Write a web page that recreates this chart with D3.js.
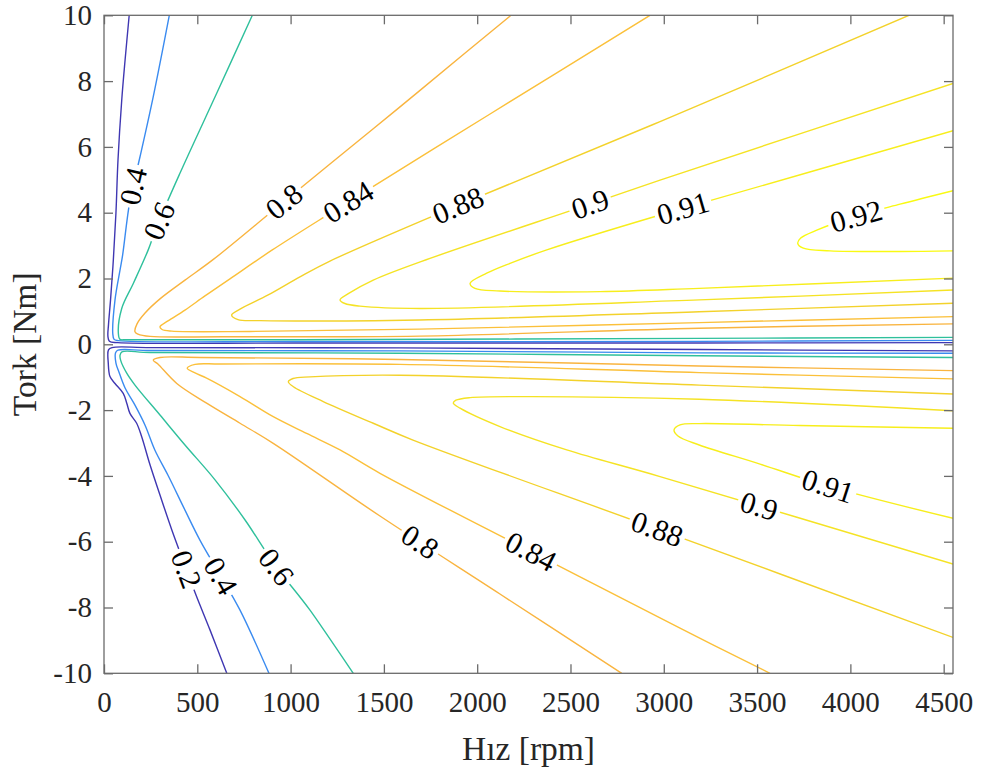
<!DOCTYPE html>
<html>
<head>
<meta charset="utf-8">
<script src="https://cdn.jsdelivr.net/npm/d3@7"></script>
<style>
  html, body { margin: 0; padding: 0; background: #ffffff; }
  svg { display: block; }
  text { font-family: "Liberation Serif", "Times New Roman", Times, serif; }
</style>
</head>
<body>
<svg id="chart" width="982" height="776"></svg>
<script>
// ---- Efficiency levels (motor efficiency map) ----
const levels = [0.2, 0.4, 0.6, 0.8, 0.84, 0.88, 0.9, 0.91, 0.92];
const levelColors = ["#3f37b2", "#3a8bf0", "#2fc09c", "#f9b43f", "#fbc03a", "#f3d22b", "#f5e324", "#f7ee1c", "#f9fa12"];

// ---- Axis ticks ----
const speedTicks = [0, 500, 1000, 1500, 2000, 2500, 3000, 3500, 4000, 4500];
const torqueTicks = [-10, -8, -6, -4, -2, 0, 2, 4, 6, 8, 10];

// ---- Iso-efficiency lines, points as [speed (rpm), torque (Nm)] ----
// motoring region (positive torque)
const eta020Motor = [[135,10.0],[113,8.64],[95,7.42],[75,5.60],[64,3.99],[50,2.56],[35,1.35],[24,0.59],[21,0.25],[29,0.09],[75,0.05],[1050,0.04],[3190,0.04],[4550,0.05]];
const eta040Motor = [[350,10.0],[264,7.53],[193,5.70],[139,4.37],[100,2.72],[86,2.26],[59,1.35],[47,0.33],[54,0.15],[77,0.11],[1050,0.085],[3190,0.09],[4550,0.12]];
const eta060Motor = [[795,10.0],[604,7.63],[407,5.20],[282,3.57],[237,2.87],[157,1.85],[95,1.09],[77,0.33],[86,0.15],[118,0.14],[1050,0.14],[3190,0.18],[4550,0.21]];
const eta080Motor = [[2181,10.0],[1924,8.80],[1570,7.14],[1211,5.48],[890,3.99],[586,2.58],[434,1.95],[300,1.38],[220,0.95],[177,0.62],[166,0.38],[182,0.31],[247,0.24],[638,0.23],[1693,0.25],[3190,0.49],[4550,0.62]];
const eta084Motor = [[2926,10.0],[2069,7.00],[1211,3.98],[900,2.86],[675,1.99],[541,1.47],[434,1.04],[343,0.71],[300,0.53],[311,0.45],[364,0.40],[782,0.39],[1693,0.46],[3190,0.66],[4550,0.84]];
const eta088Motor = [[4314,10.0],[2980,6.77],[1897,4.22],[1211,2.53],[1050,2.05],[880,1.50],[729,1.07],[684,0.89],[718,0.75],[836,0.72],[1693,0.74],[3190,0.99],[4550,1.25]];
const eta090Motor = [[4550,7.93],[2980,4.99],[2605,4.26],[1747,2.61],[1443,1.95],[1307,1.53],[1265,1.35],[1291,1.24],[1372,1.16],[1693,1.09],[3190,1.35],[4550,1.65]];
const eta091Motor = [[4550,6.49],[3103,4.13],[2980,3.93],[2373,2.87],[2176,2.46],[2051,2.16],[1962,1.85],[1988,1.70],[2122,1.62],[2658,1.60],[3190,1.70],[4550,2.01]];
const eta092Motor = [[4550,4.67],[4266,4.26],[3998,3.84],[3820,3.47],[3734,3.23],[3718,3.07],[3748,2.92],[3891,2.84],[4266,2.82],[4550,2.84]];

// generating region (negative torque)
const eta020Gen = [[4550,-0.20],[3190,-0.16],[1586,-0.11],[247,-0.10],[43,-0.10],[24,-0.17],[23,-0.58],[32,-0.98],[59,-1.19],[103,-1.49],[122,-1.79],[139,-2.10],[175,-2.40],[202,-2.81],[247,-3.67],[300,-4.58],[364,-5.65],[423,-6.56],[493,-7.62],[568,-8.68],[658,-10.0]];
const eta040Gen = [[4550,-0.27],[3190,-0.26],[1586,-0.20],[247,-0.19],[75,-0.18],[62,-0.26],[64,-0.57],[80,-0.84],[113,-1.33],[166,-1.85],[220,-2.46],[273,-3.22],[343,-3.98],[434,-5.04],[514,-5.95],[622,-7.01],[729,-8.08],[884,-10.0]];
const eta060Gen = [[4550,-0.40],[3190,-0.35],[1586,-0.27],[247,-0.25],[96,-0.23],[86,-0.33],[89,-0.48],[121,-0.87],[166,-1.24],[300,-2.15],[434,-3.06],[595,-4.12],[756,-5.34],[916,-6.71],[1104,-8.08],[1336,-10.0]];
const eta080Gen = [[4550,-0.80],[3190,-0.66],[1586,-0.46],[514,-0.40],[300,-0.40],[264,-0.48],[289,-0.60],[390,-1.19],[550,-1.79],[729,-2.40],[907,-3.01],[1479,-5.22],[2122,-7.59],[2775,-10.0]];
const eta084Gen = [[4550,-1.05],[3190,-0.86],[1586,-0.61],[622,-0.60],[488,-0.61],[446,-0.73],[488,-0.87],[550,-1.03],[729,-1.59],[907,-2.20],[1086,-2.71],[1265,-3.21],[1479,-3.92],[2288,-6.30],[3087,-8.63],[3569,-10.0]];
const eta088Gen = [[4550,-1.51],[3190,-1.24],[1586,-0.94],[1104,-0.99],[1013,-1.04],[988,-1.14],[1015,-1.29],[1175,-1.74],[1443,-2.40],[1656,-2.91],[2963,-5.61],[4550,-8.91]];
const eta090Gen = [[4550,-2.02],[3190,-1.67],[2229,-1.59],[1962,-1.62],[1886,-1.70],[1872,-1.79],[1908,-1.94],[2122,-2.50],[2480,-3.21],[2980,-4.02],[4550,-6.68]];
const eta091Gen = [[4550,-2.55],[3730,-2.47],[3190,-2.41],[3087,-2.45],[3055,-2.60],[3076,-2.79],[3190,-3.06],[3516,-3.64],[3880,-4.31],[4550,-5.29]];

// ---- Inline contour labels: level and approximate anchor (rpm, Nm) ----
const labelLevels  = [0.4, 0.6, 0.8, 0.84, 0.88, 0.9, 0.91, 0.92, 0.2, 0.4, 0.6, 0.8, 0.84, 0.88, 0.9, 0.91];
const labelSpeeds  = [161, 300, 965, 1308, 1897, 2605, 3103, 4035, 418, 627, 916, 1693, 2288, 2963, 3510, 3880];
const labelTorques = [4.80, 3.74, 4.34, 4.33, 4.22, 4.26, 4.13, 3.81, -6.89, -7.04, -6.80, -6.01, -6.30, -5.64, -4.93, -4.31];

const contourLines = [
  { level: 0.2,  points: eta020Motor }, { level: 0.4,  points: eta040Motor },
  { level: 0.6,  points: eta060Motor }, { level: 0.8,  points: eta080Motor },
  { level: 0.84, points: eta084Motor }, { level: 0.88, points: eta088Motor },
  { level: 0.9,  points: eta090Motor }, { level: 0.91, points: eta091Motor },
  { level: 0.92, points: eta092Motor },
  { level: 0.2,  points: eta020Gen }, { level: 0.4,  points: eta040Gen },
  { level: 0.6,  points: eta060Gen }, { level: 0.8,  points: eta080Gen },
  { level: 0.84, points: eta084Gen }, { level: 0.88, points: eta088Gen },
  { level: 0.9,  points: eta090Gen }, { level: 0.91, points: eta091Gen }
];

// ---- Layout ----
const W = 982, H = 776;
const plot = { left: 104, right: 953, top: 15.3, bottom: 673.3 };
const tickLen = 9;
const axisColor = "#6b6b6b";
const textColor = "#262626";

const x = d3.scaleLinear().domain([0, 4550]).range([plot.left, plot.right]);
const y = d3.scaleLinear().domain([-10, 10]).range([plot.bottom, plot.top]);
const color = d3.scaleOrdinal().domain(levels).range(levelColors);

const svg = d3.select("#chart");
const defs = svg.append("defs");

defs.append("clipPath").attr("id", "plot-clip")
  .append("rect")
  .attr("x", plot.left).attr("y", plot.top)
  .attr("width", plot.right - plot.left).attr("height", plot.bottom - plot.top);

const line = d3.line()
  .x(d => x(d[0]))
  .y(d => y(d[1]))
  .curve(d3.curveCatmullRom.alpha(0.5));

// ---- Place labels on their contour (nearest point, local direction) ----
function nearestOnLine(pts, px, py) {
  let best = null;
  for (let i = 0; i < pts.length - 1; i++) {
    const ax = x(pts[i][0]), ay = y(pts[i][1]);
    const bx = x(pts[i + 1][0]), by = y(pts[i + 1][1]);
    const dx = bx - ax, dy = by - ay;
    const L2 = dx * dx + dy * dy || 1;
    let t = ((px - ax) * dx + (py - ay) * dy) / L2;
    t = Math.max(0, Math.min(1, t));
    const qx = ax + t * dx, qy = ay + t * dy;
    const d2 = (qx - px) ** 2 + (qy - py) ** 2;
    if (!best || d2 < best.d2) best = { d2, qx, qy, dx, dy };
  }
  return best;
}

const labels = labelLevels.map((lev, i) => {
  const px = x(labelSpeeds[i]), py = y(labelTorques[i]);
  let best = null, owner = -1;
  contourLines.forEach((c, ci) => {
    if (c.level !== lev) return;
    const r = nearestOnLine(c.points, px, py);
    if (!best || r.d2 < best.d2) { best = r; owner = ci; }
  });
  let ang = Math.atan2(best.dy, best.dx) * 180 / Math.PI;
  if (ang > 90) ang -= 180;
  if (ang <= -90) ang += 180;
  return { level: lev, cx: best.qx, cy: best.qy, angle: ang, owner, text: String(lev) };
});

// measure label text widths
const labelFont = 30;
const measure = svg.append("text").attr("font-size", labelFont).attr("visibility", "hidden");
labels.forEach(l => { measure.text(l.text); l.width = measure.node().getComputedTextLength(); });
measure.remove();

// masks that open a gap in each contour line where its labels sit
contourLines.forEach((c, ci) => {
  const own = labels.filter(l => l.owner === ci);
  c.maskId = own.length ? "gap-" + ci : null;
  if (!own.length) return;
  const m = defs.append("mask").attr("id", c.maskId)
    .attr("maskUnits", "userSpaceOnUse")
    .attr("x", 0).attr("y", 0).attr("width", W).attr("height", H);
  m.append("rect").attr("x", 0).attr("y", 0).attr("width", W).attr("height", H).attr("fill", "#fff");
  own.forEach(l => {
    const w = l.width + 6, h = 22;
    m.append("rect")
      .attr("x", -w / 2).attr("y", -h / 2).attr("width", w).attr("height", h)
      .attr("fill", "#000")
      .attr("transform", `translate(${l.cx},${l.cy}) rotate(${l.angle})`);
  });
});

// ---- Contour lines ----
const gLines = svg.append("g").attr("clip-path", "url(#plot-clip)");
contourLines.forEach(c => {
  const p = gLines.append("path")
    .attr("d", line(c.points))
    .attr("fill", "none")
    .attr("stroke", color(c.level))
    .attr("stroke-width", 1.4)
    .attr("stroke-linejoin", "round");
  if (c.maskId) p.attr("mask", `url(#${c.maskId})`);
});

// ---- Contour labels ----
svg.append("g").selectAll("text").data(labels).join("text")
  .attr("transform", d => `translate(${d.cx},${d.cy}) rotate(${d.angle})`)
  .attr("text-anchor", "middle")
  .attr("dy", "0.34em")
  .attr("font-size", labelFont)
  .attr("fill", "#000")
  .text(d => d.text);

// ---- Axes (ticks pointing inwards on all four sides) ----
const fmt = d => String(d);

const gx = svg.append("g").attr("transform", `translate(0,${plot.bottom})`)
  .call(d3.axisBottom(x).tickValues(speedTicks).tickFormat(fmt).tickSizeInner(-tickLen).tickSizeOuter(0).tickPadding(18));
const gxTop = svg.append("g").attr("transform", `translate(0,${plot.top})`)
  .call(d3.axisTop(x).tickValues(speedTicks).tickFormat("").tickSizeInner(-tickLen).tickSizeOuter(0));
const gy = svg.append("g").attr("transform", `translate(${plot.left},0)`)
  .call(d3.axisLeft(y).tickValues(torqueTicks).tickFormat(fmt).tickSizeInner(-tickLen).tickSizeOuter(0).tickPadding(12));
const gyRight = svg.append("g").attr("transform", `translate(${plot.right},0)`)
  .call(d3.axisRight(y).tickValues(torqueTicks).tickFormat("").tickSizeInner(-tickLen).tickSizeOuter(0));

[gx, gxTop, gy, gyRight].forEach(g => {
  g.attr("font-family", null);
  g.select(".domain").remove();
  g.selectAll(".tick line").attr("stroke", axisColor).attr("stroke-width", 1.3);
  g.selectAll(".tick text")
    .attr("fill", textColor)
    .attr("font-size", 29);
});

// frame
svg.append("rect")
  .attr("x", plot.left).attr("y", plot.top)
  .attr("width", plot.right - plot.left).attr("height", plot.bottom - plot.top)
  .attr("fill", "none").attr("stroke", axisColor).attr("stroke-width", 1.3);

// ---- Axis titles ----
svg.append("text")
  .attr("x", (plot.left + plot.right) / 2).attr("y", 760)
  .attr("text-anchor", "middle")
  .attr("font-size", 33.5)
  .attr("fill", textColor)
  .text("Hız [rpm]");

svg.append("text")
  .attr("transform", `translate(36,${(plot.top + plot.bottom) / 2}) rotate(-90)`)
  .attr("text-anchor", "middle")
  .attr("font-size", 33.5)
  .attr("fill", textColor)
  .text("Tork [Nm]");
</script>
</body>
</html>
